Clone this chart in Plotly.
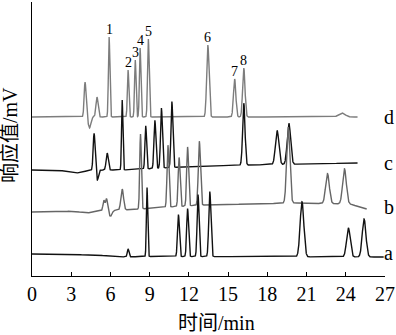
import numpy as np
import plotly.graph_objects as go

# ---- data (time in min, signal in arbitrary mV units) ----
# trace d (standards, peaks labelled 1-8)
d_rt = [4.06, 4.40, 4.97, 5.90, 7.35, 7.90, 8.27, 8.90, 13.45, 15.50, 16.20, 23.70]
d_h = [35, -11, 20, 80, 47, 57, 69, 78, 72, 38, 49, 4]
d_w = [0.07, 0.10, 0.08, 0.055, 0.055, 0.055, 0.055, 0.06, 0.09, 0.09, 0.09, 0.25]
d_lab = ["", "", "", "1", "2", "3", "4", "5", "6", "7", "8", ""]
d_base_t = [0, 24.9]
d_base_v = [0, 0]
d_end = 24.9

# trace c
c_rt = [3.30, 4.75, 5.00, 5.75, 6.90, 8.70, 9.40, 9.90, 10.70, 16.20, 18.75, 19.65]
c_h = [-3, 37, -10, 17, 70, 43, 48, 60, 66, 62, 34, 41]
c_w = [0.60, 0.07, 0.08, 0.08, 0.05, 0.06, 0.07, 0.07, 0.07, 0.09, 0.13, 0.13]
c_base_t = [0, 7, 13, 24.9]
c_base_v = [0, 0, 4, 7]
c_end = 24.9

# trace b
b_rt = [4.20, 5.50, 5.70, 6.00, 6.90, 8.30, 10.40, 11.25, 11.90, 12.80, 19.60, 22.60, 23.90]
b_h = [-2, 10, 12, -6, 21, 75, 62, 49, 59, 64, 76, 30, 35]
b_w = [0.50, 0.07, 0.07, 0.12, 0.10, 0.06, 0.07, 0.07, 0.07, 0.08, 0.12, 0.14, 0.14]
b_base_t = [0, 7, 13, 20, 24.3, 25.6]
b_base_v = [0, 2, 7, 9, 8, 3]
b_end = 25.6

# trace a
a_rt = [7.35, 8.80, 11.20, 11.90, 12.70, 13.60, 20.65, 24.20, 25.40]
a_h = [8, 69, 42, 48, 62, 65, 55, 29, 38]
a_w = [0.06, 0.05, 0.07, 0.07, 0.07, 0.08, 0.14, 0.14, 0.14]
a_base_t = [0, 5, 6.5, 9, 26.9]
a_base_v = [0, -1, -3, -2.5, -3]
a_end = 26.9

# vertical offsets of the stacked chromatograms
offsets = {"a": 22, "b": 64, "c": 106, "d": 159}

x_ticks = [0, 3, 6, 9, 12, 15, 18, 21, 24, 27]


def chrom(t, rt, h, w, bt, bv):
    y = np.interp(t, bt, bv)
    for r, hh, ww in zip(rt, h, w):
        y = y + hh * np.exp(-0.5 * ((t - r) / ww) ** 2)
    return y


FONT = "Liberation Serif, 'Noto Sans CJK SC', serif"

fig = go.Figure()
traces = [
    ("d", d_rt, d_h, d_w, d_base_t, d_base_v, d_end, "#7d7d7d"),
    ("c", c_rt, c_h, c_w, c_base_t, c_base_v, c_end, "#111111"),
    ("b", b_rt, b_h, b_w, b_base_t, b_base_v, b_end, "#666666"),
    ("a", a_rt, a_h, a_w, a_base_t, a_base_v, a_end, "#111111"),
]
for name, rt, h, w, bt, bv, end, col in traces:
    t = np.arange(0, end + 1e-9, 0.005)
    y = chrom(t, rt, h, w, bt, bv) + offsets[name]
    fig.add_trace(go.Scatter(x=t, y=y, mode="lines", line=dict(color=col, width=1.4),
                             showlegend=False, hoverinfo="skip"))

annotations = []
# peak numbers on trace d
for r, lab in zip(d_rt, d_lab):
    if not lab:
        continue
    apex = float(chrom(np.array([r]), d_rt, d_h, d_w, d_base_t, d_base_v)[0]) + offsets["d"]
    annotations.append(dict(x=r, y=apex, xref="x", yref="y", text=lab, showarrow=False,
                            yanchor="bottom", yshift=-2, font=dict(family=FONT, size=14, color="black")))

# trace names on the right
name_y = {"d": 159, "c": 113, "b": 69, "a": 23}
for k, v in name_y.items():
    annotations.append(dict(x=1.01, y=v, xref="paper", yref="y", text=k, showarrow=False,
                            xanchor="center", yanchor="middle",
                            font=dict(family=FONT, size=20, color="black")))

# axis titles
annotations.append(dict(x=-0.062, y=141, xref="paper", yref="y", text="响应值/mV", textangle=-90,
                        showarrow=False, xanchor="center", yanchor="middle",
                        font=dict(family=FONT, size=20, color="black")))
annotations.append(dict(x=14.1, y=-0.172, xref="x", yref="paper", text="时间/min",
                        showarrow=False, xanchor="center", yanchor="middle",
                        font=dict(family=FONT, size=20, color="black")))

fig.update_layout(
    width=396, height=335,
    margin=dict(l=32, r=11, t=2, b=59),
    plot_bgcolor="white", paper_bgcolor="white",
    annotations=annotations,
    xaxis=dict(range=[0, 27], tickvals=x_ticks, ticktext=[str(v) for v in x_ticks],
               ticks="inside", ticklen=4, tickwidth=1.2, tickcolor="black",
               showline=True, linecolor="black", linewidth=1.3, showgrid=False, zeroline=False,
               tickfont=dict(family=FONT, size=20, color="black")),
    yaxis=dict(range=[0, 274], showticklabels=False, ticks="", showline=True,
               linecolor="black", linewidth=1.3, showgrid=False, zeroline=False),
)

fig.write_html("out.html")
